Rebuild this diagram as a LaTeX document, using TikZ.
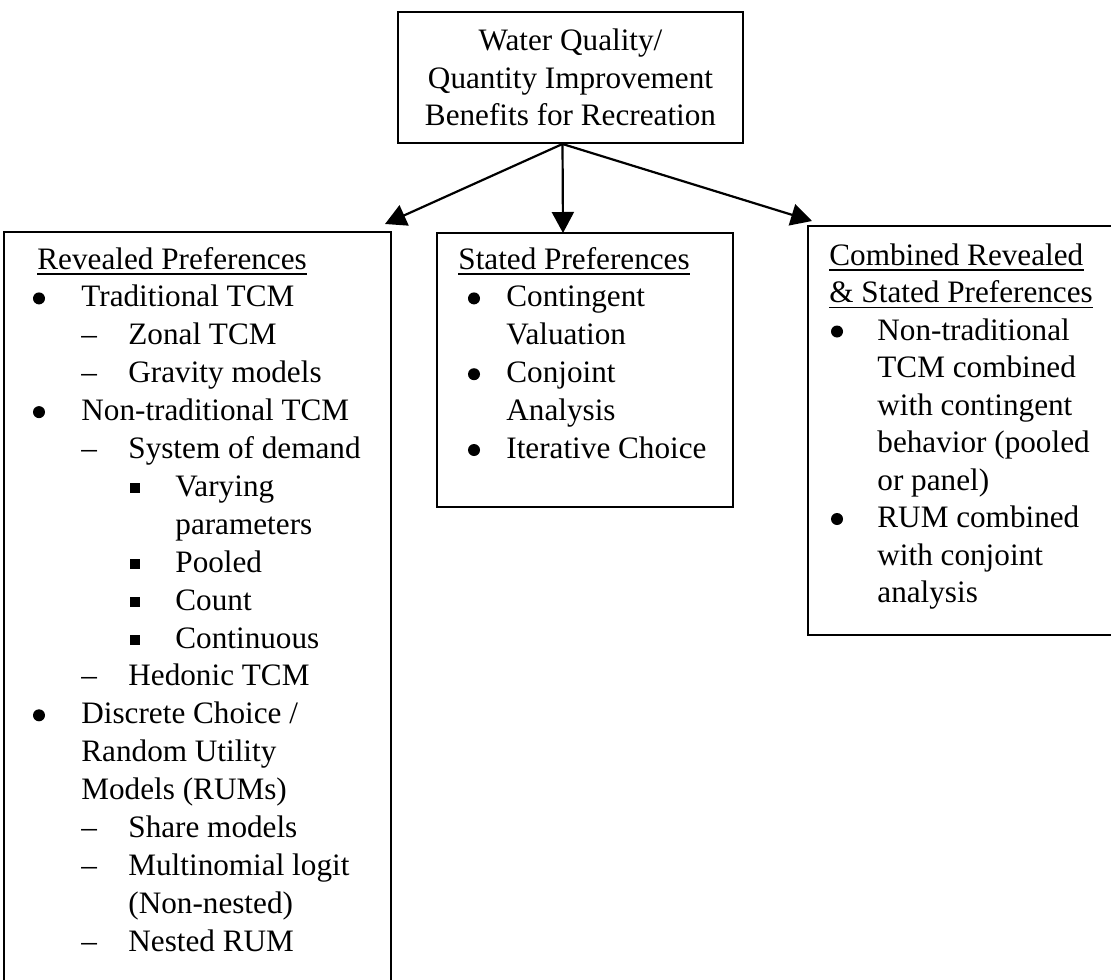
\documentclass[tikz,border=0pt]{standalone}
\usepackage{fontspec}
\setmainfont{Liberation Serif}
\usetikzlibrary{arrows.meta,fit}
\begin{document}
\begin{tikzpicture}[x=0.5pt,y=-0.5pt,
  box/.style={draw, line width=1pt, inner sep=0pt},
  txt/.style={inner sep=0pt, anchor=base west, font=\fontsize{15.6pt}{18.85pt}\selectfont},
  arr/.style={line width=1.1pt, -{Triangle[length=10.5pt,width=11pt]}},
  dot/.style={circle, fill, inner sep=0pt, minimum size=6pt},
  sq/.style={rectangle, fill, inner sep=0pt, minimum size=5pt},
  uline/.style={line width=0.8pt}]
\useasboundingbox (0,0) rectangle (1111,979);
\clip (0,0) rectangle (1111,979);

% top box
\node[box, minimum width=172.5pt, minimum height=65.5pt, align=center,
      font=\fontsize{15.6pt}{18.85pt}\selectfont] (top) at (570.5,77.5)
  {Water Quality/\\Quantity Improvement\\Benefits for Recreation};

% three boxes
\node[box, fit={(4,232) (391,990)}] (lb) {};
\node[box, fit={(437,233) (733,507)}] (mb) {};
\node[box, fit={(808,226) (1120,635)}] (rb) {};

% arrows
\coordinate (src) at ([xshift=-4pt]top.south);
\coordinate (tL) at (385,224);
\coordinate (tM) at (563,233);
\coordinate (tR) at (812,221);
\draw[arr] (src) -- (tL);
\draw[arr] (src) -- (tM);
\draw[arr] (src) -- (tR);

% ---- left box text
\node[txt] (L0) at (37,269) {Revealed Preferences};
\draw[uline] ([yshift=-2.4pt]L0.base west) -- ([yshift=-2.4pt]L0.base east);
\node[txt] (L1) at (81,306.9) {Traditional TCM};
\node[txt] (L2) at (128,344.8) {Zonal TCM};
\node[txt] (L3) at (128,382.7) {Gravity models};
\node[txt] (L4) at (81,420.6) {Non-traditional TCM};
\node[txt] (L5) at (128,458.5) {System of demand};
\node[txt] (L6) at (175,496.4) {Varying};
\node[txt] (L7) at (175,534.3) {parameters};
\node[txt] (L8) at (175,572.2) {Pooled};
\node[txt] (L9) at (175,610.1) {Count};
\node[txt] (L10) at (175,648) {Continuous};
\node[txt] (L11) at (128,685.9) {Hedonic TCM};
\node[txt] (L12) at (81,723.8) {Discrete Choice /};
\node[txt] (L13) at (81,761.7) {Random Utility};
\node[txt] (L14) at (81,799.6) {Models (RUMs)};
\node[txt] (L15) at (128,837.5) {Share models};
\node[txt] (L16) at (128,875.4) {Multinomial logit};
\node[txt] (L17) at (128,913.3) {(Non-nested)};
\node[txt] (L18) at (128,951.2) {Nested RUM};
\foreach \b [count=\i] in {306.9,420.6,723.8}
  \node[dot] (Lb\i) at (39,\b-8.5) {};
\foreach \b [count=\i] in {344.8,382.7,458.5,685.9,837.5,875.4,951.2}
  \node[txt] (Ld\i) at (81,\b) {–};
\foreach \b [count=\i] in {496.4,572.2,610.1,648}
  \node[sq] (Ls\i) at (135,\b-8.5) {};

% ---- middle box text
\node[txt] (M0) at (458,269) {Stated Preferences};
\draw[uline] ([yshift=-2.4pt]M0.base west) -- ([yshift=-2.4pt]M0.base east);
\node[txt] (M1) at (506,306.9) {Contingent};
\node[txt] (M2) at (506,344.8) {Valuation};
\node[txt] (M3) at (506,382.7) {Conjoint};
\node[txt] (M4) at (506,420.6) {Analysis};
\node[txt] (M5) at (506,458.5) {Iterative Choice};
\foreach \b [count=\i] in {306.9,382.7,458.5}
  \node[dot] (Mb\i) at (474,\b-8.5) {};

% ---- right box text
\node[txt] (R0) at (829,265) {Combined Revealed};
\draw[uline] ([yshift=-2.4pt]R0.base west) -- ([yshift=-2.4pt]R0.base east);
\node[txt] (R1) at (829,302.5) {\& Stated Preferences};
\draw[uline] ([yshift=-2.4pt]R1.base west) -- ([yshift=-2.4pt]R1.base east);
\node[txt] (R2) at (877,340) {Non-traditional};
\node[txt] (R3) at (877,377.5) {TCM combined};
\node[txt] (R4) at (877,415) {with contingent};
\node[txt] (R5) at (877,452.5) {behavior (pooled};
\node[txt] (R6) at (877,490) {or panel)};
\node[txt] (R7) at (877,527.5) {RUM combined};
\node[txt] (R8) at (877,565) {with conjoint};
\node[txt] (R9) at (877,602.5) {analysis};
\foreach \b [count=\i] in {340,527.5}
  \node[dot] (Rb\i) at (837,\b-8.5) {};
\end{tikzpicture}
\end{document}
